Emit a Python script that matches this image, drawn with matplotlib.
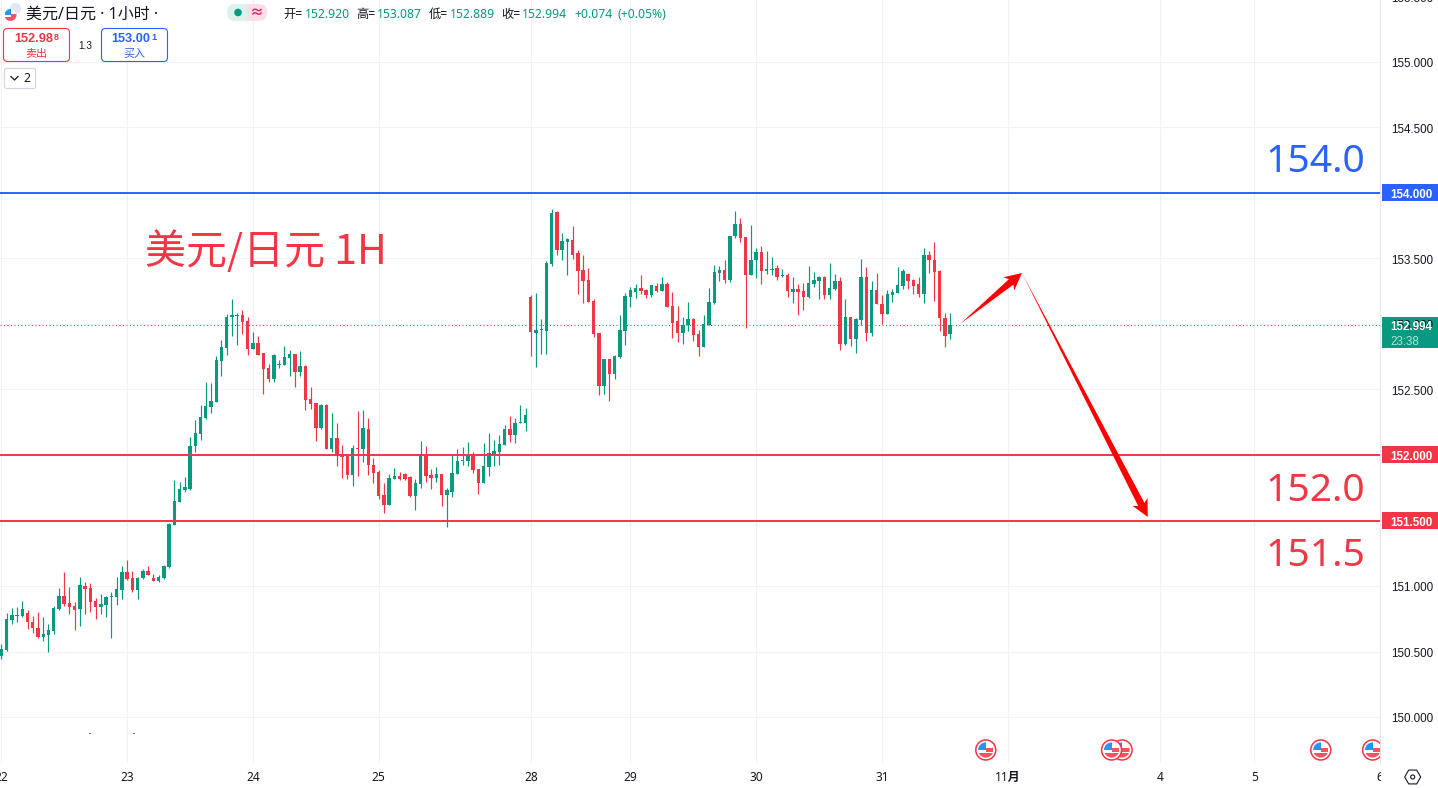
import math
import matplotlib
matplotlib.use("Agg")
import matplotlib.pyplot as plt
from matplotlib.patches import Circle, FancyBboxPatch, Polygon, Rectangle, RegularPolygon
from matplotlib.transforms import Bbox, IdentityTransform

# hourly USD/JPY candles
opens = [150.467, 150.512, 150.741, 150.772, 150.772, 150.795, 150.726, 150.680, 150.612, 150.627,
         150.657, 150.825, 150.925, 150.871, 150.848, 150.825, 151.001, 150.986, 150.886, 150.841,
         150.856, 150.917, 150.917, 150.970, 151.108, 151.062, 150.970, 151.062, 151.115, 151.062,
         151.039, 151.062, 151.146, 151.467, 151.642, 151.734, 151.742, 152.070, 152.161, 152.283,
         152.367, 152.405, 152.718, 152.817, 153.054, 153.062, 153.069, 153.023, 152.810, 152.856,
         152.779, 152.665, 152.581, 152.688, 152.688, 152.741, 152.772, 152.634, 152.680, 152.428,
         152.398, 152.207, 152.383, 152.047, 152.131, 152.001, 152.001, 151.847, 152.053, 152.046,
         152.198, 151.924, 151.870, 151.695, 151.619, 151.817, 151.840, 151.855, 151.832, 151.687,
         151.779, 152.000, 151.847, 151.825, 151.855, 151.695, 151.718, 151.855, 151.954, 151.954,
         152.000, 151.893, 151.786, 151.908, 152.008, 152.023, 152.076, 152.198, 152.153, 152.244,
         152.244, 153.207, 152.932, 152.955, 152.947, 153.459, 153.855, 153.565, 153.627, 153.642,
         153.543, 153.413, 153.337, 153.176, 152.932, 152.528, 152.734, 152.619, 152.749, 152.947,
         153.207, 153.245, 153.276, 153.260, 153.222, 153.291, 153.253, 153.306, 153.138, 153.024,
         152.932, 152.993, 153.039, 152.925, 152.825, 152.993, 153.161, 153.390, 153.413, 153.337,
         153.672, 153.764, 153.665, 153.375, 153.489, 153.550, 153.405, 153.413, 153.428, 153.367,
         153.375, 153.245, 153.268, 153.253, 153.207, 153.306, 153.329, 153.359, 153.222, 153.268,
         153.329, 152.848, 153.054, 152.886, 153.031, 153.359, 152.932, 153.260, 153.153, 153.077,
         153.222, 153.237, 153.291, 153.382, 153.337, 153.306, 153.230, 153.527, 153.489, 153.405,
         153.047, 152.920]
highs = [150.558, 150.795, 150.833, 150.841, 150.886, 150.818, 150.772, 150.802, 150.764, 150.711,
         150.848, 150.986, 151.108, 150.993, 150.879, 151.069, 151.031, 151.024, 150.909, 150.940,
         150.925, 150.955, 151.069, 151.153, 151.199, 151.115, 151.069, 151.131, 151.153, 151.092,
         151.085, 151.161, 151.482, 151.810, 151.795, 151.833, 152.138, 152.268, 152.383, 152.558,
         152.550, 152.756, 152.878, 153.077, 153.191, 153.085, 153.107, 153.054, 152.940, 152.909,
         152.779, 152.695, 152.772, 152.726, 152.833, 152.802, 152.772, 152.795, 152.688, 152.520,
         152.398, 152.390, 152.390, 152.322, 152.245, 152.077, 152.001, 152.076, 152.336, 152.343,
         152.282, 151.977, 151.886, 151.786, 151.855, 151.901, 151.870, 151.863, 151.840, 151.817,
         152.107, 152.069, 151.893, 151.908, 151.855, 151.748, 152.008, 152.046, 152.061, 152.099,
         152.023, 151.893, 152.092, 152.168, 152.114, 152.153, 152.229, 152.298, 152.282, 152.382,
         152.359, 153.222, 153.237, 153.039, 153.482, 153.878, 153.863, 153.695, 153.657, 153.749,
         153.565, 153.527, 153.428, 153.192, 152.932, 152.734, 152.734, 152.764, 153.070, 153.237,
         153.283, 153.306, 153.375, 153.268, 153.298, 153.314, 153.359, 153.321, 153.245, 153.138,
         153.054, 153.169, 153.047, 152.955, 153.070, 153.276, 153.451, 153.443, 153.489, 153.672,
         153.863, 153.810, 153.665, 153.756, 153.581, 153.596, 153.558, 153.512, 153.451, 153.421,
         153.390, 153.359, 153.306, 153.314, 153.443, 153.398, 153.367, 153.367, 153.466, 153.382,
         153.359, 153.192, 153.054, 153.047, 153.497, 153.436, 153.329, 153.390, 153.222, 153.260,
         153.268, 153.436, 153.421, 153.390, 153.344, 153.359, 153.581, 153.558, 153.627, 153.413,
         153.085, 153.087]
lows = [150.444, 150.505, 150.711, 150.726, 150.764, 150.673, 150.642, 150.604, 150.581, 150.497,
        150.635, 150.818, 150.848, 150.787, 150.665, 150.696, 150.787, 150.802, 150.749, 150.787,
        150.764, 150.604, 150.856, 150.902, 151.047, 150.955, 150.902, 151.054, 151.085, 151.039,
        151.031, 151.054, 151.138, 151.467, 151.642, 151.719, 151.734, 152.024, 152.115, 152.276,
        152.322, 152.405, 152.604, 152.764, 152.909, 152.840, 152.924, 152.764, 152.810, 152.764,
        152.466, 152.558, 152.558, 152.665, 152.688, 152.604, 152.520, 152.604, 152.344, 152.352,
        152.108, 152.199, 152.047, 152.024, 151.917, 151.826, 151.818, 151.764, 151.840, 151.947,
        151.847, 151.786, 151.664, 151.558, 151.619, 151.817, 151.809, 151.809, 151.680, 151.580,
        151.748, 151.794, 151.741, 151.794, 151.611, 151.451, 151.680, 151.855, 151.924, 151.916,
        151.863, 151.702, 151.786, 151.840, 151.916, 151.924, 152.076, 152.099, 152.092, 152.244,
        152.183, 152.757, 152.673, 152.772, 152.772, 153.443, 153.527, 153.489, 153.375, 153.497,
        153.230, 153.161, 153.169, 152.902, 152.459, 152.467, 152.413, 152.581, 152.741, 152.841,
        153.131, 153.199, 153.230, 153.199, 153.207, 153.245, 153.253, 153.131, 152.894, 152.864,
        152.848, 152.947, 152.871, 152.757, 152.825, 152.993, 153.153, 153.329, 153.314, 153.321,
        153.657, 153.627, 152.970, 153.375, 153.352, 153.306, 153.382, 153.375, 153.337, 153.359,
        153.207, 153.161, 153.070, 153.108, 153.199, 153.283, 153.192, 153.192, 153.192, 153.260,
        152.802, 152.841, 152.833, 152.780, 152.993, 152.871, 152.909, 153.153, 153.001, 153.077,
        153.169, 153.237, 153.268, 153.268, 153.230, 153.207, 153.161, 153.390, 153.176, 152.947,
        152.825, 152.889]
closes = [150.520, 150.749, 150.780, 150.780, 150.825, 150.726, 150.680, 150.612, 150.635, 150.665,
          150.833, 150.925, 150.863, 150.841, 150.818, 151.008, 150.978, 150.879, 150.841, 150.863,
          150.917, 150.925, 150.978, 151.108, 151.054, 150.970, 151.062, 151.115, 151.085, 151.039,
          151.069, 151.153, 151.474, 151.650, 151.742, 151.757, 152.070, 152.169, 152.291, 152.375,
          152.413, 152.726, 152.825, 153.054, 153.069, 153.069, 153.016, 152.810, 152.856, 152.764,
          152.657, 152.581, 152.764, 152.695, 152.749, 152.772, 152.634, 152.680, 152.421, 152.390,
          152.207, 152.383, 152.047, 152.131, 152.001, 151.986, 151.848, 152.053, 152.046, 152.206,
          151.924, 151.863, 151.687, 151.619, 151.825, 151.840, 151.817, 151.817, 151.687, 151.786,
          152.008, 151.840, 151.825, 151.855, 151.695, 151.733, 151.863, 151.954, 151.962, 152.000,
          151.886, 151.786, 151.916, 152.015, 152.031, 152.084, 152.198, 152.153, 152.244, 152.252,
          152.305, 152.940, 152.955, 152.963, 153.466, 153.848, 153.565, 153.634, 153.649, 153.527,
          153.405, 153.329, 153.169, 152.925, 152.528, 152.734, 152.619, 152.757, 152.955, 153.215,
          153.260, 153.276, 153.253, 153.222, 153.298, 153.253, 153.306, 153.131, 153.009, 152.932,
          152.993, 153.039, 152.917, 152.825, 153.001, 153.169, 153.398, 153.413, 153.337, 153.672,
          153.764, 153.657, 153.375, 153.489, 153.550, 153.405, 153.421, 153.421, 153.359, 153.375,
          153.253, 153.268, 153.245, 153.207, 153.314, 153.337, 153.359, 153.222, 153.276, 153.329,
          152.848, 153.054, 152.886, 153.039, 153.359, 152.932, 153.260, 153.153, 153.077, 153.230,
          153.245, 153.298, 153.405, 153.329, 153.291, 153.230, 153.527, 153.489, 153.398, 153.047,
          152.909, 152.994]

price_ticks = [155.5, 155.0, 154.5, 153.5, 153.0, 152.5, 151.0, 150.5, 150.0]
grid_prices = [155.0, 154.5, 154.0, 153.5, 153.0, 152.5, 152.0, 151.5, 151.0, 150.5, 150.0]
day_bars = [0, 24, 48, 72, 101, 120, 144, 168, 192, 221, 239, 263]
day_labels = ["22", "23", "24", "25", "28", "29", "30", "31", "11月", "4", "5", "6"]
event_bars = [213.8, 211.8, 187.8, 251.7, 261.6]

last_price = 152.994
blue_level = 154.0
red_levels = [152.0, 151.5]
arrow_up = [(182.9, 153.0), (194.7, 153.389)]
arrow_down = [(194.7, 153.389), (218.7, 151.527)]

GREEN = "#089981"
RED = "#F23645"
BLUE = "#2962FF"
DARK = "#131722"
GRID = "#F2F2F4"
W, H = 1438, 788

plt.rcParams["font.family"] = ["Noto Sans", "Noto Sans CJK SC", "DejaVu Sans"]

fig = plt.figure(figsize=(W / 100, H / 100), dpi=100)
ax = fig.add_axes([0, 25 / H, 1380 / W, 763 / H])
ax.set_xlim(-0.248, 262.96)
ax.set_ylim(149.649, 155.473)


# text and boxes placed in pixels from the top left of the picture
def px_text(x, y, s, size=12, color=DARK, ha="left", weight="normal", **kw):
    y = y + 1.5 + 0.07 * size
    return fig.text(x, H - y, s, transform=IdentityTransform(), fontsize=size * 0.72, color=color,
                    ha=ha, va="center", fontweight=weight, **kw)


def px_rect(x0, y0, x1, y1, color):
    fig.add_artist(Rectangle((x0, H - y1), x1 - x0, y1 - y0, transform=IdentityTransform(),
                             facecolor=color, edgecolor="none"))


def px_round_box(x0, y0, x1, y1, edge, radius=4, face="white"):
    fig.add_artist(FancyBboxPatch((x0 + radius, H - y1 + radius), x1 - x0 - 2 * radius, y1 - y0 - 2 * radius,
                                  boxstyle=f"round,pad={radius},rounding_size={radius}",
                                  transform=IdentityTransform(), facecolor=face, edgecolor=edge, linewidth=0.8))


def price_y(p):
    return H - ax.transData.transform((0, p))[1]


def wedge_arrow(start, end, shaft=7, head_len=17, head_half=8.5):
    p0 = ax.transData.transform(start)
    p1 = ax.transData.transform(end)
    dx, dy = p1[0] - p0[0], p1[1] - p0[1]
    n = math.hypot(dx, dy)
    ux, uy = dx / n, dy / n
    nx, ny = -uy, ux
    bx, by = p1[0] - ux * head_len, p1[1] - uy * head_len
    sx, sy = p1[0] - ux * (head_len - 3), p1[1] - uy * (head_len - 3)
    pts = [p0,
           (sx + nx * shaft / 2, sy + ny * shaft / 2),
           (bx + nx * head_half, by + ny * head_half),
           p1,
           (bx - nx * head_half, by - ny * head_half),
           (sx - nx * shaft / 2, sy - ny * shaft / 2)]
    fig.add_artist(Polygon(pts, closed=True, transform=IdentityTransform(), facecolor="#FF0000", edgecolor="none"))


def us_flag(cx, cy, r, in_axes=False, z=7):
    # cx, cy in pixels from top left
    y = H - cy
    disc = Circle((cx, y), r, facecolor="white")
    parts = [disc,
             Rectangle((cx - r, y - r), 2 * r, 0.62 * r, facecolor="#F7525F"),
             Rectangle((cx, y - 0.25 * r), r, 0.5 * r, facecolor="#F7525F"),
             Rectangle((cx - r, y - 0.05 * r), r + 0.05 * r, 1.05 * r, facecolor="#2196F3")]
    for part in parts:
        part.set_transform(IdentityTransform())
        part.set_edgecolor("none")
        part.set_zorder(z)
        if in_axes:
            ax.add_artist(part)
        else:
            fig.add_artist(part)
        if part is not disc:
            part.set_clip_path(disc)


# grid
for p in grid_prices:
    ax.axhline(p, color=GRID, lw=0.8, zorder=0)
for b in day_bars:
    ax.axvline(b, color=GRID, lw=0.8, zorder=0)

# last price dots sit under the candles
ax.axhline(last_price, color=GREEN, lw=0.72, ls=(0, (1, 2.5)), zorder=1)

bars = list(range(len(opens)))
colors = [GREEN if c >= o else RED for o, c in zip(opens, closes)]
ax.vlines(bars, lows, highs, colors=colors, lw=0.85, zorder=2)
ax.bar(bars, [abs(c - o) for o, c in zip(opens, closes)], bottom=[min(o, c) for o, c in zip(opens, closes)],
       width=0.66, color=colors, linewidth=0, zorder=3)

ax.axhline(blue_level, color=BLUE, lw=1.4, zorder=5)
for p in red_levels:
    ax.axhline(p, color=RED, lw=1.4, zorder=5)

for spine in ["top", "left", "bottom"]:
    ax.spines[spine].set_visible(False)
ax.spines["right"].set_color("#E6E6EA")
ax.spines["right"].set_linewidth(0.72)

ax.set_yticks([])
ax.set_xticks(day_bars)
ax.set_xticklabels(day_labels, fontsize=8.6, color=DARK)
ax.tick_params(axis="x", length=0, pad=5.5)
for label in ax.get_xticklabels():
    label.set_clip_on(True)
    label.set_clip_box(Bbox([[0, 0], [1381, H]]))
ax.get_xticklabels()[8].set_fontweight("bold")

# price scale
lib = ["Liberation Sans", "DejaVu Sans"]
for p in price_ticks:
    px_text(1391, price_y(p), f"{p:.3f}", size=11.6, family=lib)
for p, c in [(blue_level, BLUE), (red_levels[0], RED), (red_levels[1], RED)]:
    y = price_y(p)
    px_rect(1382, y - 8.5, 1438, y + 8.5, c)
    px_text(1390.5, y, f"{p:.3f}", size=11.6, color="white", weight="bold", family=lib)
y = price_y(last_price)
px_rect(1382, y - 8, 1438, y + 23, GREEN)
px_text(1390.5, y, f"{last_price:.3f}", size=11.6, color="white", weight="bold", family=lib)
px_text(1390.5, y + 15, "23:38", size=11.6, color="#B5E2D9", family=lib)

# settings button
fig.add_artist(RegularPolygon((1412.7, H - 777), 6, radius=8, orientation=math.pi / 2, transform=IdentityTransform(),
                              facecolor="white", edgecolor=DARK, linewidth=0.8))
fig.add_artist(Circle((1412.7, H - 777), 2, transform=IdentityTransform(), facecolor="white", edgecolor=DARK, linewidth=0.8))

# big annotations
cjk = ["Noto Sans CJK SC", "DejaVu Sans"]
px_text(145, 247, "美元/日元 1H", size=41, color=RED, family=cjk)
px_text(1365, 158, "154.0", size=39, color=BLUE, ha="right")
px_text(1365, 487, "152.0", size=39, color=RED, ha="right")
px_text(1365, 552, "151.5", size=39, color=RED, ha="right")

wedge_arrow(arrow_up[0], arrow_up[1])
wedge_arrow(arrow_down[0], arrow_down[1])

# header
fig.add_artist(Circle((15.5, H - 8.5), 5.5, transform=IdentityTransform(), facecolor="#E3E6F3", edgecolor="none"))
us_flag(10.5, 15, 6)
px_text(26, 12, "美元/日元 · 1小时 ·", size=16)
fig.add_artist(FancyBboxPatch((231, H - 17), 24, 9, boxstyle="round,pad=4,rounding_size=8", transform=IdentityTransform(),
                              facecolor="#DDF2EE", edgecolor="none"))
fig.add_artist(Rectangle((247, H - 21), 12, 17, transform=IdentityTransform(), facecolor="#FBDDE6", edgecolor="none"))
fig.add_artist(FancyBboxPatch((259, H - 17), 4, 9, boxstyle="round,pad=4,rounding_size=8", transform=IdentityTransform(),
                              facecolor="#FBDDE6", edgecolor="none"))
fig.add_artist(Circle((238, H - 12.5), 3.8, transform=IdentityTransform(), facecolor=GREEN, edgecolor="none"))
px_text(256, 11, "≈", size=14, color="#E91E63", ha="center", weight="bold")

for x0, name, x1, val in [(283, "开=", 305, "152.920"), (356, "高=", 377, "153.087"),
                          (429, "低=", 450, "152.889"), (501, "收=", 522, "152.994")]:
    px_text(x0, 12, name, size=12.2)
    px_text(x1, 12, val, size=12.2, color=GREEN)
px_text(574, 12, "+0.074", size=12.2, color=GREEN)
px_text(617, 12, "(+0.05%)", size=12.2, color=GREEN)

# buy and sell boxes
px_round_box(3.5, 28.5, 69.5, 61.5, RED)
px_text(53.5, 37, "152.98", size=12.8, color=RED, ha="right", weight="bold", family=lib)
px_text(54, 35, "8", size=9, color=RED, weight="bold", family=lib)
px_text(36, 52, "卖出", size=11, color=RED, ha="center")
px_text(85.5, 44, "1.3", size=10, ha="center", family=lib)
px_round_box(101.5, 28.5, 167.5, 61.5, BLUE)
px_text(150, 37, "153.00", size=12.8, color=BLUE, ha="right", weight="bold", family=lib)
px_text(151, 35, "1", size=9, color=BLUE, weight="bold", family=lib)
px_text(134, 52, "买入", size=11, color=BLUE, ha="center")
px_round_box(4.5, 68.5, 35.5, 88.5, "#D1D4DC", radius=2)
fig.add_artist(plt.Line2D([11, 14.5, 18], [H - 76.5, H - 80, H - 76.5], color=DARK, lw=0.9, transform=IdentityTransform()))
px_text(27, 76.5, "2", size=12, ha="center")

# economic calendar markers
for b in event_bars:
    x = ax.transData.transform((b, 0))[0]
    ax.add_artist(Circle((x, H - 750), 10, transform=IdentityTransform(), facecolor="white", edgecolor=RED, linewidth=1.1, zorder=7))
    us_flag(x, 750, 7.6, in_axes=True)

# two tiny specks near the bottom of the chart
fig.add_artist(Rectangle((88.5, H - 733.5), 2, 1, transform=IdentityTransform(), facecolor="#787B86", edgecolor="none"))
fig.add_artist(Rectangle((132.5, H - 733.5), 2, 1, transform=IdentityTransform(), facecolor="#787B86", edgecolor="none"))

fig.savefig("out.png", dpi=100)
